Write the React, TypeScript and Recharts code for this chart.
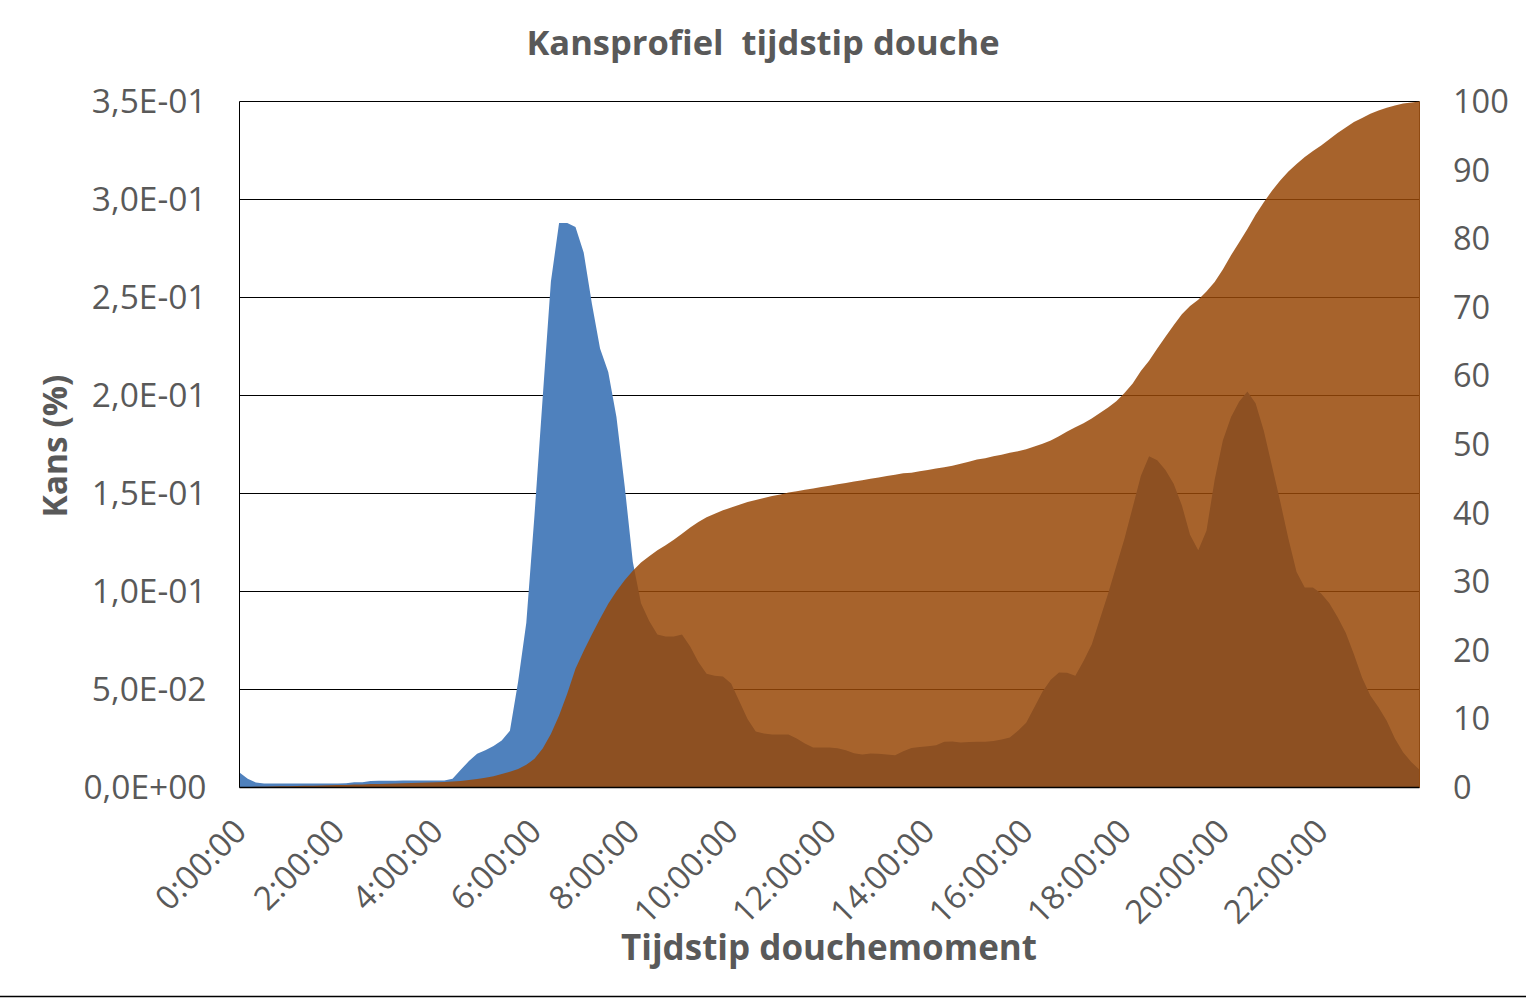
import React from "react";
import { ComposedChart, Area, XAxis, YAxis, CartesianGrid } from "recharts";

// time of day in minutes (10-minute steps)
const minutes = [
  0, 10, 20, 30, 40, 50, 60, 70, 80, 90, 100, 110, 120, 130, 140, 150, 160, 170, 180, 190, 200, 210, 220, 230,
  240, 250, 260, 270, 280, 290, 300, 310, 320, 330, 340, 350, 360, 370, 380, 390, 400, 410, 420, 430, 440, 450,
  460, 470, 480, 490, 500, 510, 520, 530, 540, 550, 560, 570, 580, 590, 600, 610, 620, 630, 640, 650, 660, 670,
  680, 690, 700, 710, 720, 730, 740, 750, 760, 770, 780, 790, 800, 810, 820, 830, 840, 850, 860, 870, 880, 890,
  900, 910, 920, 930, 940, 950, 960, 970, 980, 990, 1000, 1010, 1020, 1030, 1040, 1050, 1060, 1070, 1080, 1090,
  1100, 1110, 1120, 1130, 1140, 1150, 1160, 1170, 1180, 1190, 1200, 1210, 1220, 1230, 1240, 1250, 1260, 1270,
  1280, 1290, 1300, 1310, 1320, 1330, 1340, 1350, 1360, 1370, 1380, 1390, 1400, 1410, 1420, 1430, 1440,
];

// probability per minute (%) - left axis
const kans = [
  0.0077, 0.0045, 0.0025, 0.002, 0.002, 0.002, 0.002, 0.002, 0.002, 0.002, 0.002, 0.002, 0.002,
  0.0022, 0.0027, 0.0027, 0.0033, 0.0034, 0.0034, 0.0035, 0.0036, 0.0036, 0.0036, 0.0036, 0.0036, 0.0036,
  0.0045, 0.009, 0.0135, 0.0172, 0.019, 0.0212, 0.024, 0.029, 0.054, 0.084, 0.139, 0.199, 0.258,
  0.288, 0.288, 0.286, 0.273, 0.247, 0.224, 0.212, 0.189, 0.154, 0.115, 0.094, 0.085, 0.078,
  0.077, 0.077, 0.078, 0.072, 0.064, 0.058, 0.057, 0.0566, 0.053, 0.044, 0.035, 0.0286, 0.0275,
  0.027, 0.027, 0.027, 0.025, 0.0225, 0.0204, 0.0204, 0.0204, 0.02, 0.019, 0.0175, 0.0168, 0.0173,
  0.0172, 0.0168, 0.0165, 0.0185, 0.0202, 0.0206, 0.021, 0.0215, 0.0233, 0.0235, 0.023, 0.0232, 0.0233,
  0.0234, 0.0237, 0.0245, 0.0255, 0.029, 0.033, 0.041, 0.049, 0.055, 0.0587, 0.0585, 0.057, 0.0645,
  0.073, 0.086, 0.099, 0.113, 0.127, 0.143, 0.159, 0.169, 0.167, 0.162, 0.155, 0.144, 0.129,
  0.121, 0.131, 0.157, 0.177, 0.189, 0.197, 0.202, 0.196, 0.182, 0.164, 0.146, 0.127, 0.11,
  0.102, 0.102, 0.099, 0.094, 0.087, 0.079, 0.068, 0.056, 0.047, 0.041, 0.034, 0.025, 0.018, 0.013, 0.009,
];

// cumulative probability (%) - right axis
const cumulatief = [
  0, 0.05, 0.1, 0.12, 0.15, 0.17, 0.2, 0.22, 0.24, 0.26, 0.3, 0.32, 0.35,
  0.38, 0.42, 0.45, 0.5, 0.52, 0.55, 0.58, 0.62, 0.66, 0.7, 0.74, 0.78, 0.82,
  0.86, 0.95, 1.08, 1.25, 1.42, 1.65, 1.95, 2.3, 2.7, 3.3, 4.2, 5.7, 7.8,
  10.5, 13.7, 17.3, 19.9, 22.3, 24.6, 26.8, 28.6, 30.2, 31.6, 32.8, 33.7, 34.6,
  35.3, 36.1, 37.0, 37.9, 38.7, 39.4, 39.9, 40.4, 40.8, 41.2, 41.6, 41.9, 42.2,
  42.5, 42.7, 43.0, 43.2, 43.4, 43.6, 43.8, 44.0, 44.2, 44.4, 44.6, 44.8, 45.0,
  45.2, 45.4, 45.6, 45.8, 45.9, 46.1, 46.3, 46.5, 46.7, 46.9, 47.2, 47.5, 47.8,
  48.0, 48.3, 48.5, 48.8, 49.0, 49.3, 49.7, 50.1, 50.6, 51.2, 51.9, 52.5, 53.1,
  53.8, 54.6, 55.4, 56.3, 57.5, 58.9, 60.7, 62.2, 64.0, 65.7, 67.4, 69.0, 70.2,
  71.1, 72.3, 73.7, 75.5, 77.6, 79.5, 81.4, 83.5, 85.3, 87.0, 88.5, 89.8, 90.9,
  91.9, 92.8, 93.6, 94.5, 95.4, 96.2, 97.0, 97.6, 98.2, 98.7, 99.1, 99.4, 99.7, 99.85, 100,
];

const xTicks = [0, 120, 240, 360, 480, 600, 720, 840, 960, 1080, 1200, 1320];
const xTickLabels = [
  "0:00:00", "2:00:00", "4:00:00", "6:00:00", "8:00:00", "10:00:00",
  "12:00:00", "14:00:00", "16:00:00", "18:00:00", "20:00:00", "22:00:00",
];
const leftTicks = [0, 0.05, 0.1, 0.15, 0.2, 0.25, 0.3, 0.35];
const leftTickLabels = ["0,0E+00", "5,0E-02", "1,0E-01", "1,5E-01", "2,0E-01", "2,5E-01", "3,0E-01", "3,5E-01"];
const rightTicks = [0, 10, 20, 30, 40, 50, 60, 70, 80, 90, 100];

const title = "Kansprofiel  tijdstip douche";
const xTitle = "Tijdstip douchemoment";
const yTitle = "Kans (%)";

const data = minutes.map((m, i) => ({ minute: m, kans: kans[i], cumulatief: cumulatief[i] }));

const FONT = "'Open Sans', 'Noto Sans', sans-serif";
const TEXT = "#595959";

const XTick = (props: any) => {
  const { x, y, payload } = props;
  const idx = xTicks.indexOf(payload.value);
  const label = idx >= 0 ? xTickLabels[idx] : "";
  return (
    <text
      x={x}
      y={y}
      textAnchor="end"
      dominantBaseline="central"
      transform={`rotate(-45 ${x} ${y})`}
      fill={TEXT}
      fontSize={33}
      fontFamily={FONT}
    >
      {label}
    </text>
  );
};

export default function App() {
  return (
    <div style={{ position: "absolute", left: 0, top: 0, width: 1526, height: 998, background: "#fff" }}>
      <ComposedChart
        width={1526}
        height={998}
        data={data}
        margin={{ top: 101.5, right: 0, bottom: 110.5, left: 0 }}
      >
        <CartesianGrid yAxisId="left" vertical={false} stroke="#000" strokeWidth={1} strokeOpacity={1} />
        <Area
          yAxisId="left"
          type="linear"
          dataKey="kans"
          fill="#4F81BD"
          fillOpacity={1}
          stroke="none"
          isAnimationActive={false}
          dot={false}
          activeDot={false}
        />
        <Area
          yAxisId="right"
          type="linear"
          dataKey="cumulatief"
          fill="#984807"
          fillOpacity={0.85}
          stroke="none"
          isAnimationActive={false}
          dot={false}
          activeDot={false}
        />
        <XAxis
          dataKey="minute"
          type="number"
          domain={[0, 1440]}
          ticks={xTicks}
          interval={0}
          height={100}
          tickLine={false}
          tickSize={0}
          tickMargin={37}
          axisLine={{ stroke: "#000", strokeWidth: 1.5 }}
          tick={<XTick />}
        />
        <YAxis
          yAxisId="left"
          orientation="left"
          width={239.5}
          domain={[0, 0.35]}
          ticks={leftTicks}
          interval={0}
          tickLine={false}
          tickSize={0}
          tickMargin={33}
          axisLine={{ stroke: "#000", strokeWidth: 1 }}
          tickFormatter={(v: number) => leftTickLabels[leftTicks.indexOf(v)] ?? ""}
          tick={{ fill: TEXT, fontSize: 33.5, fontFamily: FONT }}
        />
        <YAxis
          yAxisId="right"
          orientation="right"
          width={106.5}
          domain={[0, 100]}
          ticks={rightTicks}
          interval={0}
          tickLine={false}
          tickSize={0}
          tickMargin={33.5}
          axisLine={{ stroke: "#8f4a12", strokeWidth: 1 }}
          tick={{ fill: TEXT, fontSize: 32.5, fontFamily: FONT }}
        />
      </ComposedChart>
      <svg
        width={1526}
        height={998}
        style={{ position: "absolute", left: 0, top: 0, pointerEvents: "none" }}
      >
        <text
          x={763}
          y={55}
          textAnchor="middle"
          fill={TEXT}
          fontSize={34.5}
          fontWeight="bold"
          fontFamily={FONT}
          style={{ whiteSpace: "pre" }}
        >
          {title}
        </text>
        <text
          x={829}
          y={960}
          textAnchor="middle"
          fill={TEXT}
          fontSize={35}
          fontWeight="bold"
          fontFamily={FONT}
        >
          {xTitle}
        </text>
        <text
          x={67}
          y={446}
          textAnchor="middle"
          transform="rotate(-90 67 446)"
          fill={TEXT}
          fontSize={33.5}
          fontWeight="bold"
          fontFamily={FONT}
        >
          {yTitle}
        </text>
        <line x1={0} x2={1526} y1={996.5} y2={996.5} stroke="#000" strokeWidth={1.5} />
      </svg>
    </div>
  );
}
